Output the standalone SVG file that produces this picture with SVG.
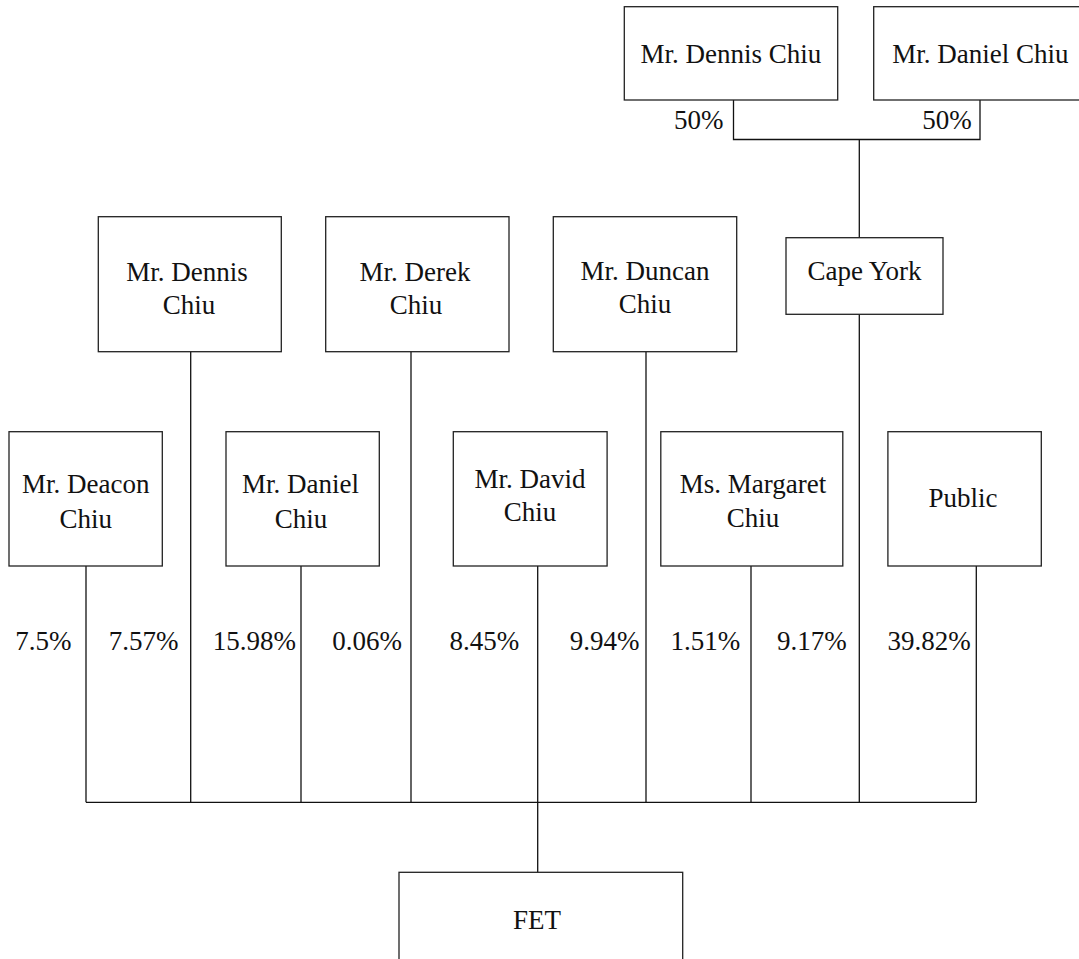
<svg xmlns="http://www.w3.org/2000/svg" width="1079" height="959" viewBox="0 0 1079 959">
<style>
.box{fill:#fff;stroke:#222;stroke-width:1.3}
.ln{fill:none;stroke:#111;stroke-width:1.3}
.t{font-family:'Liberation Serif','Times New Roman',Times,serif;font-size:27px;fill:#111;text-anchor:middle}
</style>
<rect width="1079" height="959" fill="#fff"/>
<g id="connectors">
<polyline class="ln" points="733.5,100 733.5,139.5 980,139.5 980,100"/>
<line class="ln" x1="859.3" y1="139.5" x2="859.3" y2="237.7"/>
<line class="ln" x1="859.3" y1="314.3" x2="859.3" y2="802.3"/>
<line class="ln" x1="190.7" y1="351.7" x2="190.7" y2="802.3"/>
<line class="ln" x1="411" y1="351.7" x2="411" y2="802.3"/>
<line class="ln" x1="646" y1="351.7" x2="646" y2="802.3"/>
<line class="ln" x1="86" y1="566" x2="86" y2="802.3"/>
<line class="ln" x1="301" y1="566" x2="301" y2="802.3"/>
<line class="ln" x1="537.7" y1="566" x2="537.7" y2="872.3"/>
<line class="ln" x1="751" y1="566" x2="751" y2="802.3"/>
<line class="ln" x1="976.3" y1="566" x2="976.3" y2="802.3"/>
<line class="ln" x1="86" y1="802.3" x2="976.3" y2="802.3"/>
<g class="t" font-family="Liberation Serif, serif">
<text x="698.7" y="129">50%</text>
<text x="947" y="129">50%</text>
<text x="43.3" y="650">7.5%</text>
<text x="143.7" y="650">7.57%</text>
<text x="254.3" y="650">15.98%</text>
<text x="367" y="650">0.06%</text>
<text x="484.3" y="650">8.45%</text>
<text x="604.6" y="650">9.94%</text>
<text x="705.4" y="650">1.51%</text>
<text x="811.8" y="650">9.17%</text>
<text x="929" y="650">39.82%</text>
</g>
</g>
<g class="t" font-family="Liberation Serif, serif">
<g id="top-dennis"><rect class="box" x="624.3" y="6.7" width="213.4" height="93.3"/><text x="731" y="63.3">Mr. Dennis Chiu</text></g>
<g id="top-daniel"><rect class="box" x="873.7" y="6.7" width="213.4" height="93.3"/><text x="980.3" y="63.3">Mr. Daniel Chiu</text></g>
<g id="cape-york"><rect class="box" x="786" y="237.7" width="157" height="76.6"/><text x="864.5" y="280">Cape York</text></g>
<g id="mid-dennis"><rect class="box" x="98.3" y="216.7" width="183" height="135"/><text x="187" y="280.7">Mr. Dennis</text><text x="189" y="314.3">Chiu</text></g>
<g id="mid-derek"><rect class="box" x="325.7" y="216.7" width="183.3" height="135"/><text x="415" y="280.7">Mr. Derek</text><text x="416" y="314.3">Chiu</text></g>
<g id="mid-duncan"><rect class="box" x="553.3" y="216.7" width="183.4" height="135"/><text x="645" y="280">Mr. Duncan</text><text x="645" y="313.3">Chiu</text></g>
<g id="deacon"><rect class="box" x="9" y="431.7" width="153.3" height="134.3"/><text x="85.7" y="493.3">Mr. Deacon</text><text x="85.7" y="527.7">Chiu</text></g>
<g id="bot-daniel"><rect class="box" x="226" y="431.7" width="153.3" height="134.3"/><text x="300.5" y="493.3">Mr. Daniel</text><text x="301" y="527.7">Chiu</text></g>
<g id="david"><rect class="box" x="453.3" y="431.7" width="153.8" height="134.3"/><text x="530" y="488.3">Mr. David</text><text x="530" y="521">Chiu</text></g>
<g id="margaret"><rect class="box" x="660.8" y="431.7" width="182" height="134.3"/><text x="753" y="492.7">Ms. Margaret</text><text x="753" y="527.3">Chiu</text></g>
<g id="public"><rect class="box" x="887.9" y="431.7" width="153.4" height="134.3"/><text x="963" y="506.7">Public</text></g>
<g id="fet"><rect class="box" x="399" y="872.3" width="283.7" height="100"/><text x="537" y="929">FET</text></g>
</g>
</svg>
